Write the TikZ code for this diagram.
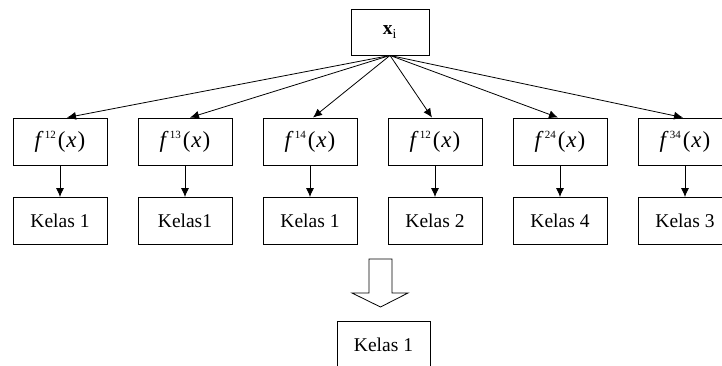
\documentclass[tikz,border=0pt]{standalone}
\usepackage{fontspec}
\setmainfont{Liberation Serif}
\usetikzlibrary{arrows.meta,calc}
\begin{document}
\begin{tikzpicture}[x=1pt,y=-1pt,
  box/.style={draw,line width=0.9pt,minimum width=94pt,minimum height=47pt,inner sep=0pt,font=\fontsize{19.5}{22}\selectfont},
  arr/.style={line width=0.8pt,-{Latex[length=9pt,width=8pt]}}]
\useasboundingbox (0,0) rectangle (722,365);
\begin{scope}
\clip (0,0) rectangle (722,365);
\node[box,minimum width=78pt,minimum height=46pt] (xi) at (390,32) {\textbf{x}\textsubscript{i}};
\newcommand{\ffun}[1]{{\fontsize{23}{26}\selectfont\textit{f}\kern1pt\textsuperscript{\fontsize{11}{12}\selectfont #1}\kern1.5pt(\kern1pt\textit{x}\kern1pt)}}
\node[box] (f1) at (60,141.5) {\ffun{12}};
\node[box] (f2) at (185,141.5) {\ffun{13}};
\node[box] (f3) at (310,141.5) {\ffun{14}};
\node[box] (f4) at (435,141.5) {\ffun{12}};
\node[box] (f5) at (560,141.5) {\ffun{24}};
\node[box] (f6) at (685,141.5) {\ffun{34}};
\node[box] (k1) at (60,221) {Kelas 1};
\node[box] (k2) at (185,221) {Kelas1};
\node[box] (k3) at (310,221) {Kelas 1};
\node[box] (k4) at (435,221) {Kelas 2};
\node[box] (k5) at (560,221) {Kelas 4};
\node[box] (k6) at (685,221) {Kelas 3};
\node[box,minimum width=93pt] (res) at (383.5,344.5) {Kelas 1};
\draw[arr] (xi.south) -- ($(f1.north)+(7,0)$);
\draw[arr] (xi.south) -- ($(f2.north)+(5,0)$);
\draw[arr] (xi.south) -- ($(f3.north)+(3,0)$);
\draw[arr] (xi.south) -- ($(f4.north)+(-3,0)$);
\draw[arr] (xi.south) -- ($(f5.north)+(-2,0)$);
\draw[arr] (xi.south) -- ($(f6.north)+(-2,0)$);
\foreach \i in {1,...,6} \draw[arr] (f\i.south) -- (k\i.north);
\draw[line width=0.8pt,line join=miter] (369,259) -- (392,259) -- (392,293) -- (408,293) -- (380.5,307) -- (352,293) -- (369,293) -- cycle;
\end{scope}
\end{tikzpicture}
\end{document}
